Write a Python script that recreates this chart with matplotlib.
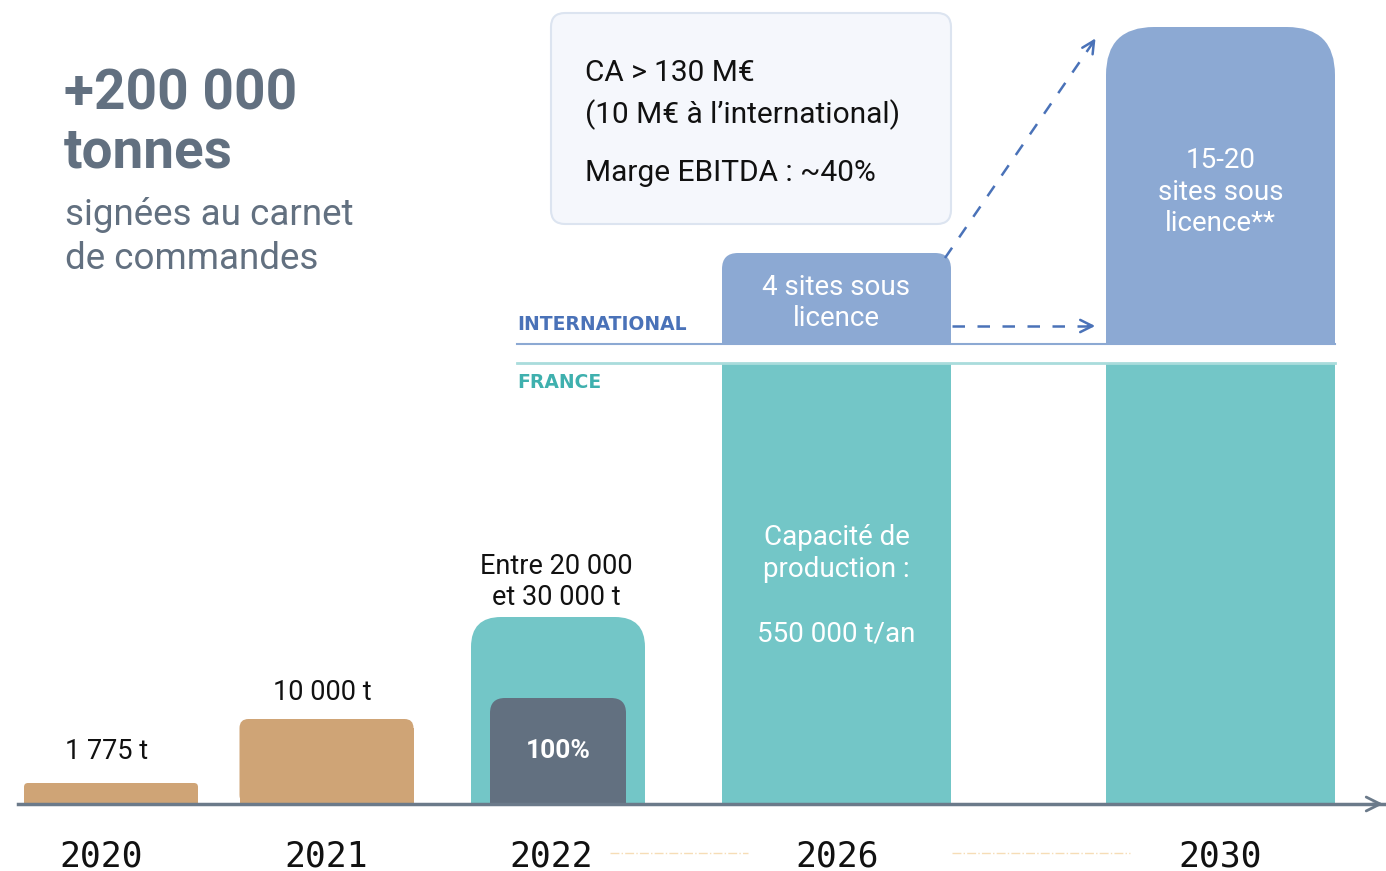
import matplotlib.pyplot as plt
from matplotlib.patches import FancyBboxPatch, Rectangle

plt.rcParams['font.family'] = ['Roboto', 'DejaVu Sans']

# --- data (heights in px above the baseline) ---
years = ["2020", "2021", "2022", "2026", "2030"]
tonnage_labels = ["1 775 t", "10 000 t", "Entre 20 000\net 30 000 t"]
tonnage_heights = [21, 85, 187]
share_2022 = "100%"
share_2022_height = 106
france_heights = [441, 441]          # 2026, 2030 production capacity
intl_heights = [91, 317]             # 2026, 2030 licensed sites
intl_labels = ["4 sites sous\nlicence", "15-20\nsites sous\nlicence**"]
capacity_label = "Capacité de\nproduction :\n\n550 000 t/an"
box_lines = ["CA > 130 M€", "(10 M€ à l’international)", "Marge EBITDA : ~40%"]

# --- layout ---
xc = [111, 326.5, 558, 836.5, 1220.5]
label_x = [107, 322, 556]
label_y = [53, 111, 222]
w_small = 174
w_big = 229
intl_base = 460
tan = "#CFA476"
teal = "#73C6C7"
slate = "#627080"
blue = "#8CA9D3"
dblue = "#4A72B8"


def bar(ax, x, w, y0, h, r, color):
    if r > 0:
        ax.add_patch(FancyBboxPatch((x - w / 2, y0), w, h,
                                    boxstyle=f"round,pad=0,rounding_size={r}",
                                    fc=color, ec="none"))
        ax.add_patch(Rectangle((x - w / 2, y0), w, h - r, fc=color, ec="none"))
    else:
        ax.add_patch(Rectangle((x - w / 2, y0), w, h, fc=color, ec="none"))


fig = plt.figure(figsize=(13.86, 8.71), dpi=100)
ax = fig.add_axes([0, 0, 1, 1])
ax.set_xlim(0, 1386)
ax.set_ylim(-67, 804)
ax.axis("off")

# tonnage bars
radii = [4, 9, 30]
colors = [tan, tan, teal]
for i in range(3):
    bar(ax, xc[i], w_small, 0, tonnage_heights[i], radii[i], colors[i])
    ax.text(label_x[i], label_y[i], tonnage_labels[i], ha="center",
            va="center", fontsize=19.5, color="#111111", linespacing=1.2)
bar(ax, xc[2], 136, 0, share_2022_height, 15, slate)
ax.text(xc[2], share_2022_height / 2, share_2022, ha="center", va="center",
        fontsize=19, fontweight="bold", color="white")

# France / international bars
for i in range(2):
    bar(ax, xc[3 + i], w_big, 0, france_heights[i], 0, teal)
bar(ax, xc[3], w_big, intl_base, intl_heights[0], 16, blue)
bar(ax, xc[4], w_big, intl_base, intl_heights[1], 48, blue)
ax.text(xc[3], 501, intl_labels[0], ha="center", va="center",
        fontsize=20, color="white", linespacing=1.2)
ax.text(xc[4], 612, intl_labels[1], ha="center", va="center",
        fontsize=20, color="white", linespacing=1.2)
ax.text(xc[3], 218, capacity_label, ha="center", va="center",
        fontsize=20, color="white", linespacing=1.25)

# separator lines
ax.plot([517, 1335], [460, 460], color=blue, lw=1.5)
ax.plot([517, 1335], [441, 441], color="#A9DCDC", lw=2)
ax.text(517, 479, "INTERNATIONAL", ha="left", va="center", fontsize=13.5,
        fontweight="bold", color=dblue, family="DejaVu Sans")
ax.text(517, 421, "FRANCE", ha="left", va="center", fontsize=13.5,
        fontweight="bold", color="#3FB0AE", family="DejaVu Sans")

# dashed arrows
ax.plot([952, 1090], [478, 478], color=dblue, lw=1.8, ls=(0, (5, 5)))
ax.annotate("", xy=(1098, 478), xytext=(1085, 478),
            arrowprops=dict(arrowstyle="->", color=dblue, lw=1.8,
                            mutation_scale=22))
ax.plot([945, 1092], [546, 760], color=dblue, lw=1.8, ls=(0, (5, 5)))
ax.annotate("", xy=(1097, 768), xytext=(1090, 757),
            arrowprops=dict(arrowstyle="->", color=dblue, lw=1.8,
                            mutation_scale=22))

# info box
ax.add_patch(FancyBboxPatch((551, 580), 400, 211,
                            boxstyle="round,pad=0,rounding_size=14",
                            fc="#F5F7FC", ec="#DCE4F0", lw=1.5))
for txt, y in zip(box_lines, [731, 689, 631]):
    ax.text(585, y, txt, ha="left", va="center", fontsize=21.5, color="#111111")

# headline
ax.text(64, 710, "+200 000", ha="left", va="center", fontsize=39.5,
        fontweight="bold", color=slate)
ax.text(64, 652, "tonnes", ha="left", va="center", fontsize=39.5,
        fontweight="bold", color=slate)
ax.text(65, 567, "signées au carnet\nde commandes", ha="left", va="center",
        fontsize=26.5, color=slate, linespacing=1.3)

# baseline with arrow
ax.plot([18, 1384], [0, 0], color="#6B7A8A", lw=2.5)
ax.annotate("", xy=(1386, 0), xytext=(1370, 0),
            arrowprops=dict(arrowstyle="->", color="#6B7A8A", lw=2,
                            mutation_scale=25))

# faint dotted guides between years
ax.plot([610, 748], [-49, -49], color="#F6DDB6", lw=1, ls="-.")
ax.plot([952, 1130], [-49, -49], color="#F6DDB6", lw=1, ls="-.")

year_x = [101, 326, 551, 837, 1220]
for x, yr in zip(year_x, years):
    ax.text(x, -52, yr, ha="center", va="center", fontsize=25,
            family="DejaVu Sans Mono", color="#111111")

fig.savefig("out.png", dpi=100)
